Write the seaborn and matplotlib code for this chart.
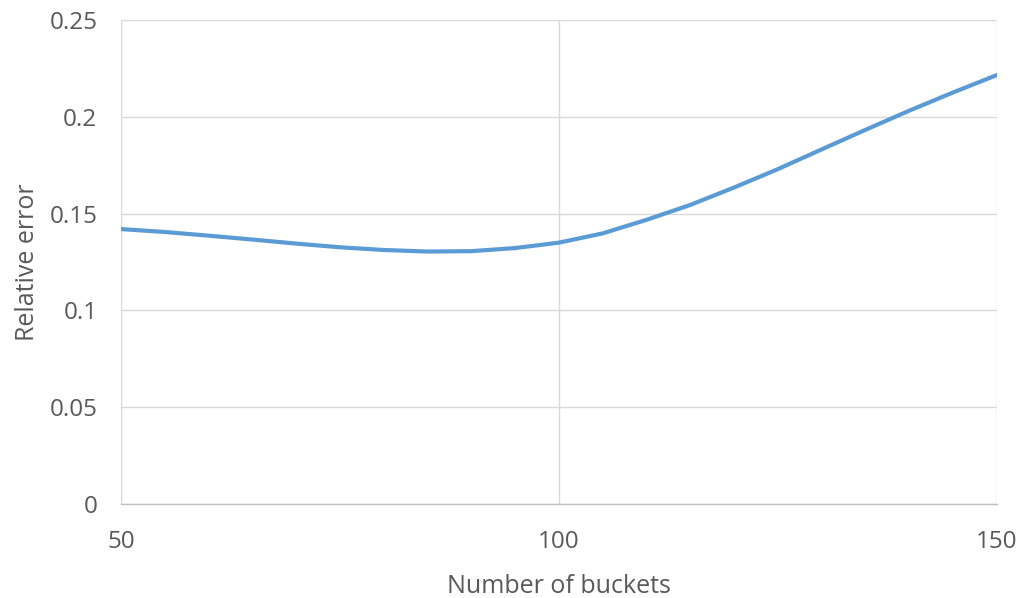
import matplotlib
matplotlib.use("Agg")
import matplotlib.pyplot as plt
import seaborn as sns
import pandas as pd

# Data
buckets = [50, 55, 60, 65, 70, 75, 80, 85, 90, 95, 100,
           105, 110, 115, 120, 125, 130, 135, 140, 145, 150]
rel_error = [0.1420, 0.1405, 0.1386, 0.1366, 0.1345, 0.1326, 0.1312, 0.1304, 0.1306, 0.1322, 0.1350,
             0.1398, 0.1468, 0.1545, 0.1635, 0.1730, 0.1832, 0.1933, 0.2032, 0.2126, 0.2216]
x_ticks = [50, 100, 150]
y_ticks = [0, 0.05, 0.1, 0.15, 0.2, 0.25]
y_tick_labels = ["0", "0.05", "0.1", "0.15", "0.2", "0.25"]

df = pd.DataFrame({"Number of buckets": buckets, "Relative error": rel_error})

sns.set_style("white")
plt.rcParams["font.family"] = ["Open Sans", "DejaVu Sans"]

fig = plt.figure(figsize=(10.24, 5.98), dpi=100)
ax = fig.add_axes([121 / 1024, (598 - 504) / 598, (997 - 121) / 1024, (504 - 20) / 598])

grid_c = "#D9D9D9"
text_c = "#595959"
fs = 17.5

sns.lineplot(data=df, x="Number of buckets", y="Relative error", ax=ax,
             color="#5B9BD5", linewidth=3.0, solid_capstyle="round")

ax.set_xlim(50, 150)
ax.set_ylim(0, 0.25)
ax.set_xticks(x_ticks)
ax.set_xticklabels([str(v) for v in x_ticks])
ax.set_yticks(y_ticks)
ax.set_yticklabels(y_tick_labels)

ax.grid(True, color=grid_c, linewidth=1.0)
ax.set_axisbelow(True)
for s in ["top", "right", "left"]:
    ax.spines[s].set_visible(False)
ax.spines["bottom"].set_color("#BFBFBF")
ax.spines["bottom"].set_linewidth(1.0)

ax.tick_params(axis="both", length=0, labelsize=fs, labelcolor=text_c)
ax.tick_params(axis="x", pad=19)
ax.tick_params(axis="y", pad=17)

ax.set_xlabel("Number of buckets", fontsize=fs + 0.5, color=text_c, labelpad=14)
ax.set_ylabel("Relative error", fontsize=fs + 0.5, color=text_c, labelpad=7)

fig.savefig("out.png", dpi=100)
